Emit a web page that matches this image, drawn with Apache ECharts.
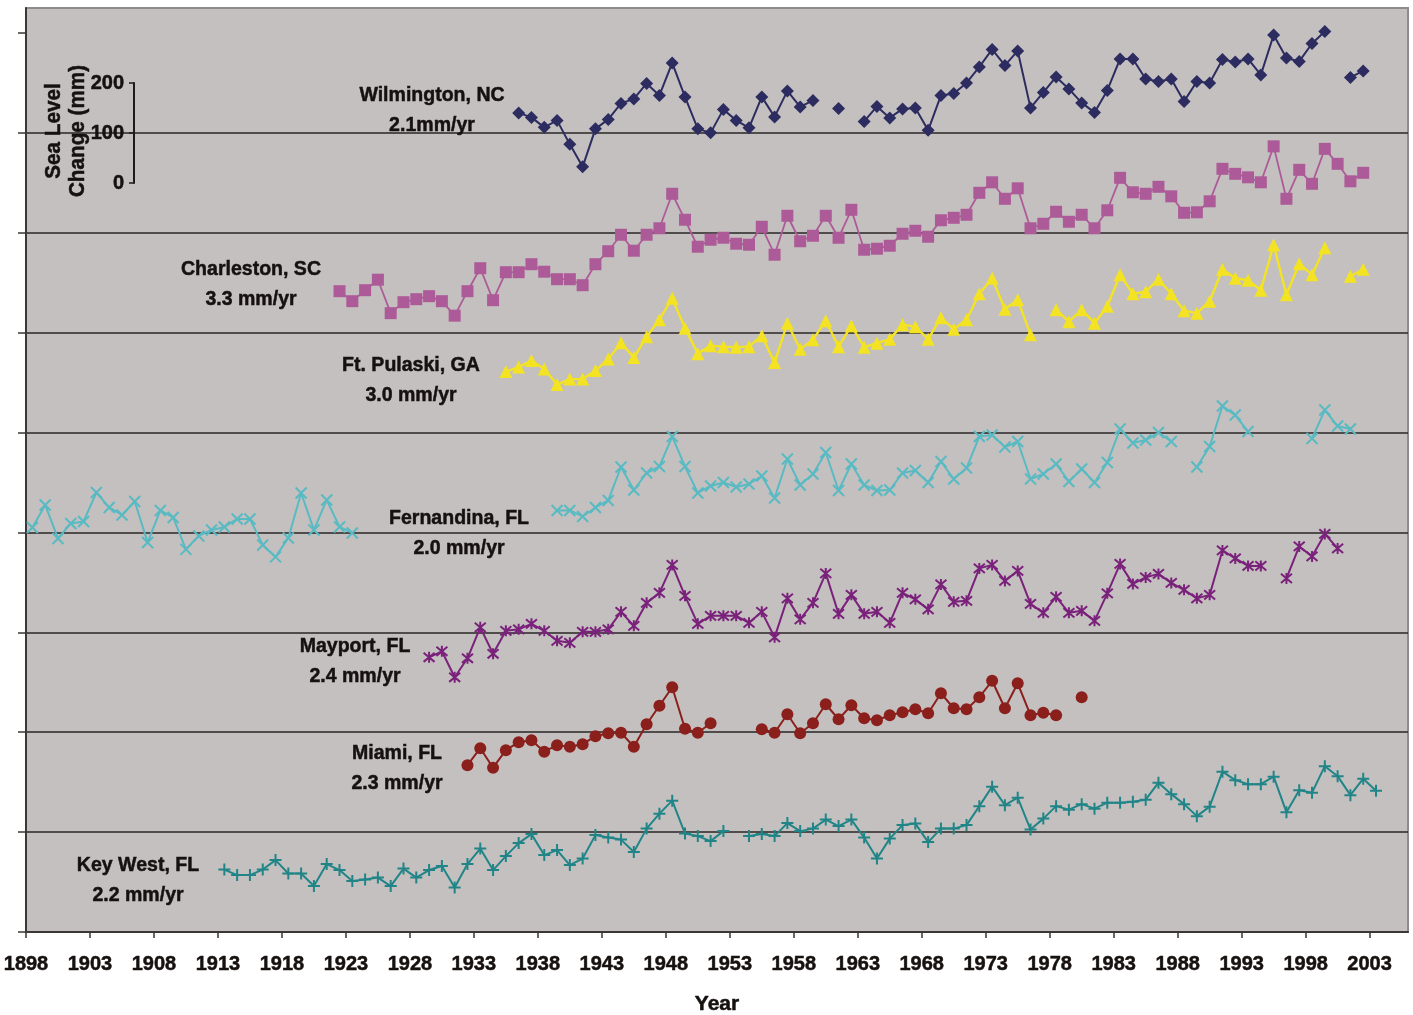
<!DOCTYPE html>
<html>
<head>
<meta charset="utf-8">
<script src="https://cdn.jsdelivr.net/npm/echarts@6/dist/echarts.min.js"></script>
<style>
  html, body { margin: 0; padding: 0; background: #ffffff; }
  #chart { width: 1413px; height: 1015px; }
</style>
</head>
<body>
<div id="chart"></div>
<script>
// Annual mean sea level at seven tide gauges, each record shifted up the
// common millimetre scale so the stations stack from south to north.
// null marks a year with no annual mean.

const yearTicks = [1898, 1903, 1908, 1913, 1918, 1923, 1928, 1933, 1938, 1943, 1948,
                   1953, 1958, 1963, 1968, 1973, 1978, 1983, 1988, 1993, 1998, 2003];
const scaleTicks = [0, 200, 400, 600, 800, 1000, 1200, 1400, 1600, 1800];

const stationNames = ['Wilmington, NC', 'Charleston, SC', 'Ft. Pulaski, GA', 'Fernandina, FL',
                      'Mayport, FL', 'Miami, FL', 'Key West, FL'];
const stationRates = ['2.1mm/yr', '3.3 mm/yr', '3.0 mm/yr', '2.0 mm/yr',
                      '2.4 mm/yr', '2.3 mm/yr', '2.2 mm/yr'];
const firstYears = [1936, 1922, 1935, 1898, 1929, 1932, 1913];

const wilmington = [
  1640, 1631, 1611, 1625, 1577, 1532, 1608, 1627, 1659, 1668,
  1699, 1675, 1740, 1672, 1608, 1600, 1647, 1625, 1610, 1672,
  1632, 1684, 1652, 1665, null, 1649, null, 1623, 1653, 1630,
  1648, 1650, 1605, 1675, 1679, 1700, 1732, 1767, 1735, 1764,
  1650, 1681, 1712, 1688, 1660, 1641, 1685, 1748, 1748, 1708,
  1703, 1708, 1663, 1703, 1700, 1747, 1742, 1748, 1716, 1796,
  1750, 1743, 1779, 1803, null, 1711, 1724
];
const charleston = [
  1283, 1263, 1285, 1306, 1239, 1261, 1267, 1273, 1263, 1234,
  1283, 1329, 1265, 1321, 1321, 1337, 1322, 1307, 1307, 1295,
  1337, 1363, 1396, 1364, 1396, 1409, 1478, 1426, 1372, 1386,
  1390, 1378, 1376, 1412, 1356, 1434, 1383, 1394, 1434, 1390,
  1446, 1366, 1368, 1374, 1398, 1404, 1392, 1425, 1430, 1436,
  1480, 1501, 1468, 1489, 1409, 1418, 1442, 1422, 1436, 1409,
  1445, 1510, 1481, 1478, 1492, 1473, 1440, 1441, 1463, 1528,
  1518, 1511, 1501, 1573, 1468, 1526, 1498, 1568, 1538, 1503,
  1520
];
const ftPulaski = [
  1122, 1131, 1144, 1127, 1096, 1107, 1107, 1124, 1147, 1180,
  1150, 1192, 1226, 1269, 1209, 1158, 1174, 1172, 1171, 1172,
  1194, 1140, 1219, 1167, 1186, 1224, 1172, 1214, 1171, 1179,
  1187, 1216, 1212, 1187, 1230, 1207, 1226, 1278, 1309, 1247,
  1266, 1196, null, 1246, 1222, 1246, 1219, 1253, 1316, 1278,
  1282, 1307, 1278, 1244, 1239, 1263, 1327, 1309, 1305, 1285,
  1376, 1276, 1338, 1316, 1370, null, 1313, 1327
];
const fernandina = [
  810, 855, 788, 818, 822, 880, 850, 835, 862, 780,
  844, 830, 766, 793, 805, 811, 827, 827, 775, 751,
  789, 879, 805, 865, 811, 799, null, null, null, null,
  null, null, null, null, null, null, null, null, null, null,
  null, 844, 844, 832, 850, 864, 931, 885, 919, 932,
  992, 932, 879, 893, 900, 891, 897, 913, 869, 947,
  895, 917, 960, 884, 937, 895, 884, 885, 919, 924,
  900, 942, 907, 929, 992, 995, 971, 982, 907, 917,
  937, 902, 927, 900, 940, 1007, 979, 985, 1000, 982,
  null, 931, 972, 1053, 1035, 1002, null, null, null, null,
  988, 1045, 1013, 1007
];
const mayport = [
  550, 562, 510, 548, 610, 557, 603, 606, 617, 603,
  583, 579, 601, 601, 606, 641, 613, 659, 679, 735,
  673, 617, 633, 633, 633, 619, 641, 590, 668, 626,
  659, 718, 637, 675, 637, 641, 619, 679, 666, 646,
  696, 661, 663, 728, 735, 703, 723, 657, 639, 671,
  639, 643, 623, 678, 737, 697, 710, 717, 699, 685,
  668, 675, 764, 748, 733, 733, null, 708, 772, 752,
  797, 768
];
const miami = [
  334, 368, 329, 364, 380, 384, 361, 374, 371, 376,
  392, 398, 399, 371, 416, 453, 490, 407, 399, 418,
  null, null, null, 406, 399, 436, 398, 418, 456, 426,
  454, 428, 424, 434, 440, 446, 438, 478, 448, 446,
  470, 503, 448, 498, 434, 439, 434, null, 470
];
const keyWest = [
  125, 114, 114, 125, 144, 117, 117, 92, 136, 124,
  102, 105, 109, 92, 127, 109, 124, 132, 89, 136,
  167, 124, 152, 178, 196, 154, 164, 134, 147, 194,
  189, 185, 160, 207, 237, 263, 197, 192, 182, 202,
  null, 192, 196, 192, 218, 202, 207, 225, 212, 225,
  189, 147, 187, 214, 217, 180, 207, 207, 214, 252,
  291, 254, 269, 205, 227, 252, 245, 256, 247, 259,
  259, 261, 265, 299, 276, 256, 232, 251, 321, 304,
  296, 296, 311, 240, 284, 279, 332, 312, 274, 307,
  283
];
const stationValues = [wilmington, charleston, ftPulaski, fernandina, mayport, miami, keyWest];

// ---- styling ----
const FONT = '"Liberation Sans", Arial, sans-serif';
const INK = '#16110f';
// a thin outline in the text colour gives the heavy display weight
const HEAVY = { textBorderColor: INK, textBorderWidth: 0.5 };

const seriesStyle = [
  { color: '#2d2c60', symbol: 'diamond', size: 13, width: 2 },
  { color: '#ad5b98', symbol: 'rect', size: 12, width: 1.8 },
  { color: '#f3e322', symbol: 'triangle', size: 13, width: 2.4 },
  { color: '#58bac2', symbol: 'path://M0,0L10,10M10,0L0,10', size: 11, width: 2, stroke: true },
  { color: '#7a217b', symbol: 'path://M0,0L10,10M10,0L0,10M5,-1L5,11', size: 11, width: 2, stroke: true },
  { color: '#8b1f1c', symbol: 'circle', size: 12, width: 2 },
  { color: '#218588', symbol: 'path://M5,0L5,10M0,5L10,5', size: 12, width: 2, stroke: true }
];

// caption block centres (pixels) for the station names
const labelSpots = [[432, 110], [251, 284], [411, 380], [459, 533], [355, 661], [397, 768], [138, 880]];

// annual means are plotted at mid-year
function toPoints(start, values) {
  return values.map((v, i) => [start + i + 0.5, v === null ? '-' : v]);
}

const series = stationValues.map((vals, k) => {
  const st = seriesStyle[k];
  return {
    name: stationNames[k],
    type: 'line',
    xAxisIndex: 0,
    yAxisIndex: 0,
    data: toPoints(firstYears[k], vals),
    connectNulls: false,
    showSymbol: true,
    showAllSymbol: true,
    symbol: st.symbol,
    symbolSize: st.size,
    lineStyle: { color: st.color, width: st.width },
    itemStyle: st.stroke
      ? { color: st.color, borderColor: st.color, borderWidth: 2 }
      : { color: st.color, borderWidth: 0 },
    emphasis: { disabled: true },
    animation: false,
    z: 3
  };
});

const chart = echarts.init(document.getElementById('chart'), null, { renderer: 'canvas' });

chart.setOption({
  backgroundColor: '#ffffff',
  animation: false,
  textStyle: { fontFamily: FONT },
  grid: [
    { left: 26, right: 5, top: 8, bottom: 83, show: true, outerBoundsMode: 'none',
      backgroundColor: '#c4c0bf', borderColor: '#8f8b8a', borderWidth: 2, containLabel: false },
    { left: 134, top: 83, height: 100, width: 2, show: false, outerBoundsMode: 'none' }
  ],
  xAxis: [
    {
      type: 'value', gridIndex: 0, min: 1898, max: 2006, interval: 5,
      name: 'Year', nameLocation: 'middle', nameGap: 62,
      nameTextStyle: Object.assign({ fontFamily: FONT, fontWeight: 'bold', fontSize: 21, color: INK }, HEAVY),
      axisLine: { show: true, onZero: false, lineStyle: { color: '#3a3736', width: 2 } },
      axisTick: { show: true, length: 6, customValues: yearTicks, lineStyle: { color: '#3a3736', width: 1.5 } },
      axisLabel: Object.assign({
        show: true, margin: 22, customValues: yearTicks,
        fontFamily: FONT, fontWeight: 'bold', fontSize: 20, color: INK,
        formatter: v => String(v)
      }, HEAVY),
      splitLine: { show: false }
    },
    { type: 'value', gridIndex: 1, show: false, min: 0, max: 1 }
  ],
  yAxis: [
    {
      type: 'value', gridIndex: 0, min: 0, max: 1850, interval: 200,
      axisLine: { show: true, lineStyle: { color: '#3a3736', width: 2 } },
      axisTick: { show: true, length: 8, customValues: scaleTicks, lineStyle: { color: '#3a3736', width: 1.5 } },
      axisLabel: { show: false },
      splitLine: { show: true, showMinLine: false, showMaxLine: false,
                   lineStyle: { color: '#2a2624', width: 1.6 } }
    },
    {
      type: 'value', gridIndex: 1, min: 0, max: 200, interval: 100,
      axisLine: { show: true, lineStyle: { color: '#1e1a18', width: 2 } },
      axisTick: { show: true, length: 5, lineStyle: { color: '#1e1a18', width: 1.5 } },
      axisLabel: Object.assign({ show: true, margin: 10, fontFamily: FONT, fontWeight: 'bold',
                                 fontSize: 20, color: INK }, HEAVY),
      splitLine: { show: false }
    }
  ],
  graphic: [
    {
      type: 'text', x: 66, y: 131, rotation: Math.PI / 2, scaleX: 0.94, z: 10,
      style: {
        text: 'Sea Level\nChange (mm)', align: 'center', verticalAlign: 'middle',
        fontFamily: FONT, fontWeight: 'bold', fontSize: 22, lineHeight: 24, fill: INK,
        stroke: INK, lineWidth: 0.5
      }
    }
  ].concat(stationNames.map((name, k) => ({
    type: 'text', x: labelSpots[k][0], y: labelSpots[k][1], scaleX: 0.93, z: 10,
    style: {
      text: name + '\n' + stationRates[k], align: 'center', verticalAlign: 'middle',
      fontFamily: FONT, fontWeight: 'bold', fontSize: 21, lineHeight: 29.5, fill: INK,
      stroke: INK, lineWidth: 0.5
    }
  }))),
  series: series
});
</script>
</body>
</html>
